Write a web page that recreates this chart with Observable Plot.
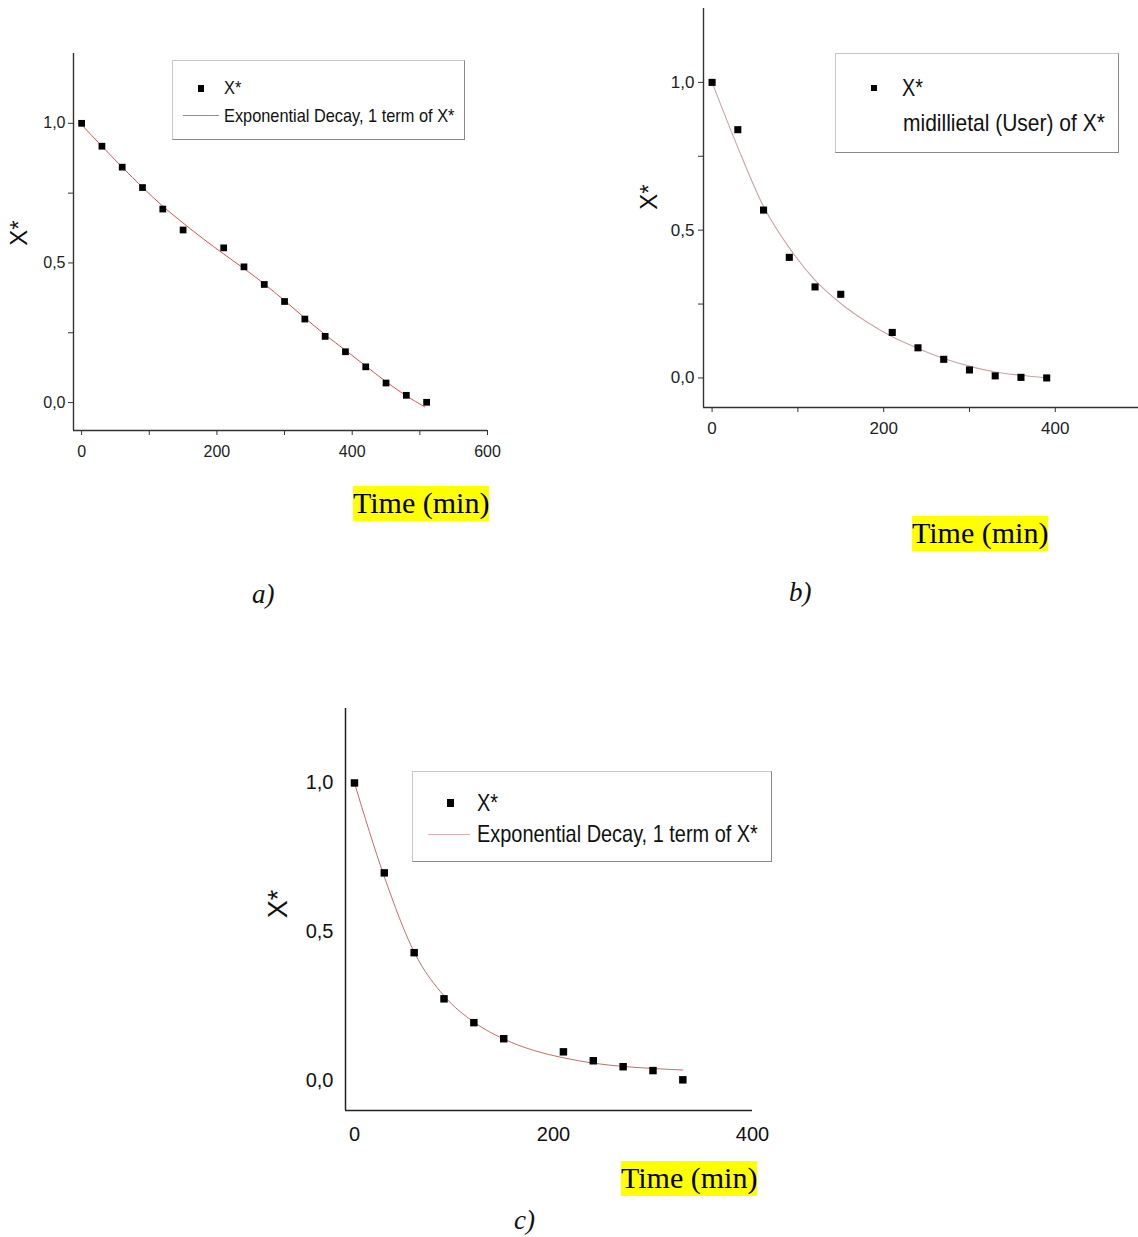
<!DOCTYPE html>
<html>
<head>
<meta charset="utf-8">
<script src="https://cdn.jsdelivr.net/npm/d3@7"></script>
<script src="https://cdn.jsdelivr.net/npm/@observablehq/plot@0.6"></script>
<style>
  html, body { margin: 0; padding: 0; background: #fff; }
  #page { position: relative; width: 1138px; height: 1237px; overflow: hidden; background: #fff; }
  .sans { font-family: "Liberation Sans", Arial, sans-serif; }
  .serif { font-family: "Liberation Serif", "Times New Roman", serif; }
  .legend { position: absolute; background: #fff; border: 1px solid #c8c8c8; border-right-color: #888; border-bottom-color: #888; box-sizing: border-box; }
  .hl { position: absolute; background: #ffff00; color: #000; white-space: nowrap; line-height: 1; padding: 2px 0 3px 0; }
  .ylab { position: absolute; transform: rotate(-90deg); transform-origin: center center; white-space: nowrap; color: #111; }
  .mk { position: absolute; background: #000; }
  .ln { position: absolute; height: 1px; }
  .lt { position: absolute; white-space: nowrap; color: #111; line-height: 1; transform-origin: left top; }
</style>
</head>
<body>
<div id="page"></div>
<script>
// ---------- data ----------
// panel a
const aTime = [0, 30, 60, 90, 120, 150, 210, 240, 270, 300, 330, 360, 390, 420, 450, 480, 510];
const aX    = [1.0, 0.918, 0.843, 0.770, 0.693, 0.618, 0.554, 0.486, 0.423, 0.362, 0.299, 0.237, 0.182, 0.128, 0.070, 0.026, 0.001];
const aFitTime = [0, 30, 60, 90, 120, 150, 180, 210, 240, 270, 300, 330, 360, 390, 420, 450, 480, 507];
const aFit     = [0.995, 0.918, 0.843, 0.771, 0.703, 0.643, 0.586, 0.532, 0.480, 0.425, 0.365, 0.303, 0.243, 0.187, 0.131, 0.075, 0.024, -0.015];
// panel b
const bTime = [0, 30, 60, 90, 120, 150, 210, 240, 270, 300, 330, 360, 390];
const bX    = [1.0, 0.840, 0.568, 0.408, 0.308, 0.283, 0.154, 0.102, 0.063, 0.027, 0.007, 0.002, 0.0];
const bFitTime = [0, 30, 60, 90, 120, 150, 180, 210, 240, 270, 300, 330, 360, 390];
const bFit     = [1.0, 0.78, 0.58, 0.44, 0.331, 0.252, 0.19, 0.139, 0.10, 0.066, 0.04, 0.02, 0.009, 0.0];
// panel c
const cTime = [0, 30, 60, 90, 120, 150, 210, 240, 270, 300, 330];
const cX    = [1.0, 0.698, 0.430, 0.275, 0.195, 0.141, 0.097, 0.067, 0.047, 0.034, 0.003];
const cFitTime = [0, 30, 60, 90, 120, 150, 180, 210, 240, 270, 300, 330];
const cFit     = [1.0, 0.685, 0.432, 0.285, 0.197, 0.14, 0.102, 0.077, 0.059, 0.048, 0.041, 0.036];

// tick values
const yMajor = [0, 0.5, 1.0];
const yMinor = [0.25, 0.75];
const aXMajor = [0, 200, 400, 600];
const aXMinor = [100, 300, 500];
const bXMajor = [0, 200, 400];
const bXMinor = [100, 300];
const cXMajor = [0, 200, 400];

// ---------- helpers ----------
const page = document.getElementById("page");
const zip = (xs, ys) => xs.map((t, i) => ({t, v: ys[i]}));
const commaFmt = d => d3.format(".1f")(d).replace(".", ",");
const FONT = '"Liberation Sans", Arial, sans-serif';

function place(el, left, top) {
  el.style.position = "absolute";
  el.style.left = left + "px";
  el.style.top = top + "px";
  page.appendChild(el);
}
function addDiv(cls, css, text) {
  const d = document.createElement("div");
  d.className = cls;
  Object.assign(d.style, css);
  if (text != null) d.textContent = text;
  page.appendChild(d);
  return d;
}

// ---------- panel a ----------
{
  const xDom = [-12, 600], yDom = [-0.1, 1.25];
  const chart = Plot.plot({
    width: 540, height: 440,
    marginLeft: 73, marginRight: 53, marginTop: 13, marginBottom: 50,
    x: {domain: xDom, axis: null},
    y: {domain: yDom, axis: null},
    style: {fontFamily: FONT, fontSize: "16px", color: "#222", background: "transparent"},
    marks: [
      Plot.axisY(yMajor, {label: null, tickSize: 5, tickPadding: 3, tickFormat: commaFmt, fontSize: 16, stroke: "#333"}),
      Plot.axisY(yMinor, {label: null, tickSize: 5, tickFormat: () => "", stroke: "#333"}),
      Plot.axisX(aXMajor, {label: null, tickSize: 5, tickPadding: 10, fontSize: 16, stroke: "#333"}),
      Plot.axisX(aXMinor, {label: null, tickSize: 5, tickFormat: () => "", stroke: "#333"}),
      Plot.ruleX([xDom[0]], {stroke: "#333", strokeWidth: 1.4}),
      Plot.ruleY([yDom[0]], {stroke: "#333", strokeWidth: 1.4}),
      Plot.line(zip(aFitTime, aFit), {x: "t", y: "v", stroke: "#d9534f", strokeWidth: 1, curve: "monotone-x"}),
      Plot.dot(zip(aTime, aX), {x: "t", y: "v", symbol: "square", r: 3.8, fill: "#000", stroke: "none"})
    ]
  });
  place(chart, 0, 40);
}

// ---------- panel b ----------
{
  const xDom = [-10, 497], yDom = [-0.1, 1.25];
  const chart = Plot.plot({
    width: 538, height: 450,
    marginLeft: 103, marginRight: 0, marginTop: 8, marginBottom: 43,
    x: {domain: xDom, axis: null},
    y: {domain: yDom, axis: null},
    style: {fontFamily: FONT, fontSize: "17px", color: "#222", background: "transparent"},
    marks: [
      Plot.axisY(yMajor, {label: null, tickSize: 5, tickPadding: 4, tickFormat: commaFmt, fontSize: 17, stroke: "#333"}),
      Plot.axisY(yMinor, {label: null, tickSize: 5, tickFormat: () => "", stroke: "#333"}),
      Plot.axisX(bXMajor, {label: null, tickSize: 5, tickPadding: 9, fontSize: 17, stroke: "#333"}),
      Plot.axisX(bXMinor, {label: null, tickSize: 5, tickFormat: () => "", stroke: "#333"}),
      Plot.ruleX([xDom[0]], {stroke: "#333", strokeWidth: 1.4}),
      Plot.ruleY([yDom[0]], {stroke: "#333", strokeWidth: 1.4}),
      Plot.line(zip(bFitTime, bFit), {x: "t", y: "v", stroke: "#c9a5a5", strokeWidth: 1.1, curve: "monotone-x"}),
      Plot.dot(zip(bTime, bX), {x: "t", y: "v", symbol: "square", r: 4, fill: "#000", stroke: "none"})
    ]
  });
  place(chart, 600, 0);
}

// ---------- panel c ----------
{
  const xDom = [-9, 400], yDom = [-0.1, 1.25];
  const chart = Plot.plot({
    width: 540, height: 460,
    marginLeft: 95, marginRight: 38, marginTop: 18, marginBottom: 40,
    x: {domain: xDom, axis: null},
    y: {domain: yDom, axis: null},
    style: {fontFamily: FONT, fontSize: "20px", color: "#111", background: "transparent"},
    marks: [
      Plot.axisY(yMajor, {label: null, tickSize: 0, tickPadding: 12, tickFormat: commaFmt, fontSize: 20}),
      Plot.axisX(cXMajor, {label: null, tickSize: 0, tickPadding: 16, fontSize: 20}),
      Plot.ruleX([xDom[0]], {stroke: "#222", strokeWidth: 1.5}),
      Plot.ruleY([yDom[0]], {stroke: "#222", strokeWidth: 1.5}),
      Plot.line(zip(cFitTime, cFit), {x: "t", y: "v", stroke: "#c0706a", strokeWidth: 1, curve: "monotone-x"}),
      Plot.dot(zip(cTime, cX), {x: "t", y: "v", symbol: "square", r: 4.2, fill: "#000", stroke: "none"})
    ]
  });
  place(chart, 250, 690);
}

// ---------- y-axis titles ----------
addDiv("ylab sans", {left: "4px", top: "219px", width: "30px", height: "28px", fontSize: "24px", textAlign: "center", lineHeight: "28px"}, "X*");
addDiv("ylab sans", {left: "634px", top: "183px", width: "30px", height: "28px", fontSize: "24px", textAlign: "center", lineHeight: "28px"}, "X*");
addDiv("ylab sans", {left: "262px", top: "889px", width: "32px", height: "30px", fontSize: "27px", textAlign: "center", lineHeight: "30px"}, "X*");

// ---------- legends ----------
// a
addDiv("legend", {left: "172px", top: "60px", width: "293px", height: "80px"});
addDiv("mk", {left: "198px", top: "85px", width: "6px", height: "7px"});
addDiv("lt sans", {left: "224px", top: "78px", fontSize: "19px", transform: "scaleX(0.86)"}, "X*");
addDiv("ln", {left: "183px", top: "115px", width: "36px", background: "#e07070"});
addDiv("lt sans", {left: "224px", top: "106px", fontSize: "19px", transform: "scaleX(0.86)"}, "Exponential Decay, 1 term of X*");
// b
addDiv("legend", {left: "835px", top: "53px", width: "284px", height: "100px"});
addDiv("mk", {left: "871px", top: "85px", width: "6px", height: "6px"});
addDiv("lt sans", {left: "902px", top: "77px", fontSize: "23px", transform: "scaleX(0.86)"}, "X*");
addDiv("lt sans", {left: "903px", top: "111px", fontSize: "24px", transform: "scaleX(0.875)"}, "midillietal (User) of X*");
// c
addDiv("legend", {left: "412px", top: "771px", width: "360px", height: "91px"});
addDiv("mk", {left: "447px", top: "799px", width: "7px", height: "8px"});
addDiv("lt sans", {left: "477px", top: "791px", fontSize: "24px", transform: "scaleX(0.83)"}, "X*");
addDiv("ln", {left: "428px", top: "834px", width: "42px", background: "#dcb0aa"});
addDiv("lt sans", {left: "477px", top: "822px", fontSize: "24px", transform: "scaleX(0.83)"}, "Exponential Decay, 1 term of X*");

// ---------- "Time (min)" labels and panel letters ----------
addDiv("hl serif", {left: "353px", top: "486px", fontSize: "30px"}, "Time (min)");
addDiv("hl serif", {left: "912px", top: "516px", fontSize: "30px"}, "Time (min)");
addDiv("hl serif", {left: "621px", top: "1161px", fontSize: "30px"}, "Time (min)");
addDiv("lt serif", {left: "252px", top: "581px", fontSize: "27px", fontStyle: "italic"}, "a)");
addDiv("lt serif", {left: "789px", top: "579px", fontSize: "27px", fontStyle: "italic"}, "b)");
addDiv("lt serif", {left: "514px", top: "1207px", fontSize: "27px", fontStyle: "italic"}, "c)");
</script>
</body>
</html>
